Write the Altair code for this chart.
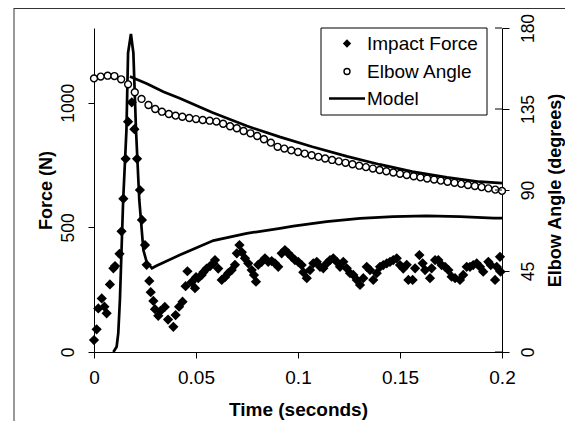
import altair as alt
import pandas as pd

FONT = "Liberation Sans"

# ---------------- data ----------------
series_names = ["Impact Force", "Elbow Angle", "Model"]
x_ticks = [0, 0.05, 0.1, 0.15, 0.2]
force_ticks = [0, 500, 1000]
angle_ticks = [0, 45, 90, 135, 180]

force_t = [0.0000, 0.0013, 0.0021, 0.0038, 0.0051, 0.0062, 0.0078, 0.0095, 0.0103, 0.0125,
           0.0135, 0.0144, 0.0155, 0.0167, 0.0185, 0.0198, 0.0211, 0.0225, 0.0235, 0.0250,
           0.0258, 0.0271, 0.0278, 0.0291, 0.0299, 0.0315, 0.0326, 0.0347, 0.0363, 0.0389,
           0.0400, 0.0417, 0.0434, 0.0449, 0.0458, 0.0478, 0.0495, 0.0500, 0.0511, 0.0528,
           0.0536, 0.0552, 0.0569, 0.0585, 0.0593, 0.0609, 0.0626, 0.0642, 0.0658, 0.0675,
           0.0691, 0.0700, 0.0713, 0.0725, 0.0740, 0.0756, 0.0773, 0.0784, 0.0794, 0.0805,
           0.0822, 0.0838, 0.0854, 0.0871, 0.0887, 0.0903, 0.0920, 0.0936, 0.0952, 0.0969,
           0.0985, 0.1001, 0.1018, 0.1026, 0.1043, 0.1059, 0.1075, 0.1092, 0.1108, 0.1124,
           0.1141, 0.1157, 0.1173, 0.1190, 0.1206, 0.1222, 0.1239, 0.1255, 0.1271, 0.1288,
           0.1304, 0.1320, 0.1337, 0.1353, 0.1369, 0.1386, 0.1402, 0.1418, 0.1435, 0.1451,
           0.1467, 0.1484, 0.1500, 0.1516, 0.1533, 0.1541, 0.1562, 0.1574, 0.1595, 0.1611,
           0.1623, 0.1647, 0.1655, 0.1672, 0.1688, 0.1704, 0.1721, 0.1737, 0.1753, 0.1770,
           0.1794, 0.1810, 0.1827, 0.1843, 0.1859, 0.1876, 0.1892, 0.1908, 0.1933, 0.1945,
           0.1966, 0.1974, 0.1990, 0.1993]
force_n = [48, 91, 175, 215, 182, 155, 271, 336, 345, 394,
           484, 615, 775, 924, 1002, 894, 775, 650, 530, 429,
           350, 285, 240, 205, 172, 145, 165, 181, 130, 101,
           148, 182, 202, 264, 324, 280, 256, 300, 296, 309,
           320, 335, 345, 355, 369, 335, 289, 300, 316, 329,
           350, 396, 429, 400, 376, 356, 329, 309, 282, 350,
           362, 376, 362, 365, 356, 342, 396, 409, 396, 382,
           369, 362, 349, 320, 296, 329, 356, 362, 342, 336,
           356, 369, 376, 362, 342, 362, 336, 316, 309, 289,
           269, 296, 342, 329, 289, 316, 342, 349, 356, 362,
           369, 376, 349, 335, 350, 289, 289, 336, 389, 356,
           329, 296, 336, 369, 369, 349, 342, 329, 302, 296,
           289, 309, 342, 342, 349, 356, 342, 322, 362, 349,
           289, 342, 382, 322]

angle_t = [0.0000, 0.0033, 0.0067, 0.0100, 0.0133, 0.0167, 0.0200, 0.0233, 0.0267, 0.0300,
           0.0333, 0.0367, 0.0400, 0.0433, 0.0467, 0.0500, 0.0533, 0.0567, 0.0600, 0.0633,
           0.0667, 0.0700, 0.0733, 0.0767, 0.0800, 0.0833, 0.0867, 0.0900, 0.0933, 0.0967,
           0.1000, 0.1033, 0.1067, 0.1100, 0.1133, 0.1167, 0.1200, 0.1233, 0.1267, 0.1300,
           0.1333, 0.1367, 0.1400, 0.1433, 0.1467, 0.1500, 0.1533, 0.1567, 0.1600, 0.1633,
           0.1667, 0.1700, 0.1733, 0.1767, 0.1800, 0.1833, 0.1867, 0.1900, 0.1933, 0.1967,
           0.2000]
angle_deg = [152.0, 153.0, 153.5, 153.3, 151.5, 148.7, 144.3, 140.6, 137.2, 135.0,
             133.5, 132.2, 131.3, 130.7, 130.0, 129.4, 128.9, 128.5, 128.0, 126.8,
             125.4, 124.3, 122.8, 121.5, 120.0, 118.2, 116.3, 114.0, 113.0, 112.0,
             111.1, 110.2, 109.3, 108.4, 107.5, 106.7, 105.9, 105.1, 104.3, 103.5,
             102.7, 101.9, 101.1, 100.4, 99.7, 99.0, 98.3, 97.6, 97.0, 96.4,
             95.8, 95.2, 94.6, 94.0, 93.4, 92.8, 92.2, 91.6, 90.9, 90.2,
             89.5]

model_force_t = [0.0095, 0.0111, 0.0119, 0.0127, 0.0135, 0.0143, 0.0159, 0.0167, 0.0181,
                 0.0193, 0.0206, 0.0222, 0.0242, 0.0258, 0.0284, 0.0304, 0.0420, 0.0585,
                 0.0749, 0.0912, 0.0977, 0.1140, 0.1304, 0.1466, 0.1630, 0.1794, 0.1960,
                 0.2000]
model_force_n = [0, 21, 76, 209, 409, 610, 890, 1200, 1276,
                 1200, 890, 610, 409, 362, 336, 345, 389, 447,
                 476, 496, 505, 523, 536, 543, 546, 543, 537,
                 537]

model_angle_t = [0.0176, 0.0260, 0.0340, 0.0420, 0.0580, 0.0750, 0.0910, 0.1070,
                 0.1240, 0.1400, 0.1560, 0.1730, 0.1890, 0.2000]
model_angle_deg = [153.0, 149.0, 144.6, 141.0, 133.0, 125.5, 119.5, 114.0,
                   108.7, 104.2, 100.2, 97.0, 94.6, 93.8]

# ---------------- tables ----------------
df_force = pd.DataFrame({"t": force_t, "v": force_n})
df_angle = pd.DataFrame({"t": angle_t, "v": angle_deg})
df_mf = pd.DataFrame({"t": model_force_t, "v": model_force_n})
df_ma = pd.DataFrame({"t": model_angle_t, "v": model_angle_deg})
df_aticks = pd.DataFrame({"v": angle_ticks})
df_one = pd.DataFrame({"a": [0]})

W, H = 408, 324

x_enc = alt.X("t:Q", scale=alt.Scale(domain=[0, 0.2], nice=False, zero=False),
              axis=alt.Axis(values=x_ticks, format="~g", title="Time (seconds)",
                            titleFontSize=19, titleFontWeight="bold", labelFontSize=19,
                            tickSize=6, labelPadding=10, titlePadding=13, labelFlush=False))

y_force = alt.Y("v:Q", scale=alt.Scale(domain=[0, 1300], nice=False),
                axis=alt.Axis(values=force_ticks, orient="left", title="Force (N)", format="d",
                              titleFontSize=18, titleFontWeight="bold", labelFontSize=17.5,
                              labelAngle=270, labelAlign="center", labelBaseline="bottom",
                              tickSize=6, labelPadding=11, titlePadding=4))

y_angle = alt.Y("v:Q", scale=alt.Scale(domain=[0, 180], nice=False),
                axis=alt.Axis(values=angle_ticks, orient="right", title="Elbow Angle (degrees)",
                              titleFontSize=18, titleFontWeight="bold", labelFontSize=17.5,
                              labelAngle=270, labelAlign="center", labelBaseline="top",
                              titleAngle=270, titleBaseline="top",
                              tickSize=7, labelPadding=10, titlePadding=10))

# ---------------- data marks ----------------
force_pts = alt.Chart(df_force).mark_point(
    shape="diamond", filled=True, color="black", size=105, opacity=1).encode(
    x=x_enc, y=y_force)
force_line = alt.Chart(df_mf).mark_line(color="black", strokeWidth=2.7).encode(
    x=x_enc, y=y_force)

angle_pts = alt.Chart(df_angle).mark_point(
    shape="circle", fill="white", stroke="black", strokeWidth=1.4, size=48,
    opacity=1, fillOpacity=1).encode(x=x_enc, y=y_angle)
angle_line = alt.Chart(df_ma).mark_line(color="black", strokeWidth=2.7).encode(
    x=x_enc, y=y_angle)
angle_inner_ticks = alt.Chart(df_aticks).mark_rule(color="black", strokeWidth=1).encode(
    y=y_angle, x=alt.value(W - 7), x2=alt.value(W))

# ---------------- decoration: outer frame and legend ----------------
frame_left = alt.Chart(df_one).mark_rule(color="#333", strokeWidth=1).encode(
    x=alt.value(-80), y=alt.value(-20), y2=alt.value(H + 80))
frame_top = alt.Chart(df_one).mark_rule(color="#333", strokeWidth=1).encode(
    x=alt.value(-80), x2=alt.value(W + 70), y=alt.value(-19.5))

LX, LY = 227, 0
leg_box = alt.Chart(df_one).mark_rect(fill="white", stroke="black", strokeWidth=1).encode(
    x=alt.value(LX), x2=alt.value(LX + 166), y=alt.value(LY), y2=alt.value(LY + 87))
leg_diamond = alt.Chart(df_one).mark_point(
    shape="diamond", filled=True, color="black", size=70, opacity=1).encode(
    x=alt.value(LX + 26), y=alt.value(LY + 15.5))
leg_circle = alt.Chart(df_one).mark_point(
    shape="circle", fill="white", stroke="black", strokeWidth=1.4, size=36,
    opacity=1, fillOpacity=1).encode(x=alt.value(LX + 26), y=alt.value(LY + 43.5))
leg_line = alt.Chart(df_one).mark_rule(color="black", strokeWidth=2.7).encode(
    x=alt.value(LX + 8), x2=alt.value(LX + 44), y=alt.value(LY + 70.5))
leg_texts = [
    alt.Chart(df_one).mark_text(text=name, align="left", baseline="middle",
                                font=FONT, fontSize=19, color="black").encode(
        x=alt.value(LX + 46), y=alt.value(LY + 16 + 27.5 * i))
    for i, name in enumerate(series_names)
]

force_layer = alt.layer(frame_left, frame_top, force_pts, force_line)
angle_layer = alt.layer(angle_pts, angle_line, angle_inner_ticks,
                        leg_box, leg_diamond, leg_circle, leg_line, *leg_texts)

chart = alt.layer(force_layer, angle_layer).resolve_scale(y="independent").properties(
    width=W, height=H,
    autosize=alt.AutoSizeParams(type="none"),
    padding={"left": 86, "top": 20, "right": 63, "bottom": 69},
).configure(font=FONT).configure_view(strokeWidth=0).configure_axis(
    domainColor="black", tickColor="black", labelColor="black", titleColor="black",
    grid=False, labelFont=FONT, titleFont=FONT, domainWidth=1, tickWidth=1)

chart.save("out.html", embed_options={"renderer": "svg", "actions": False})
